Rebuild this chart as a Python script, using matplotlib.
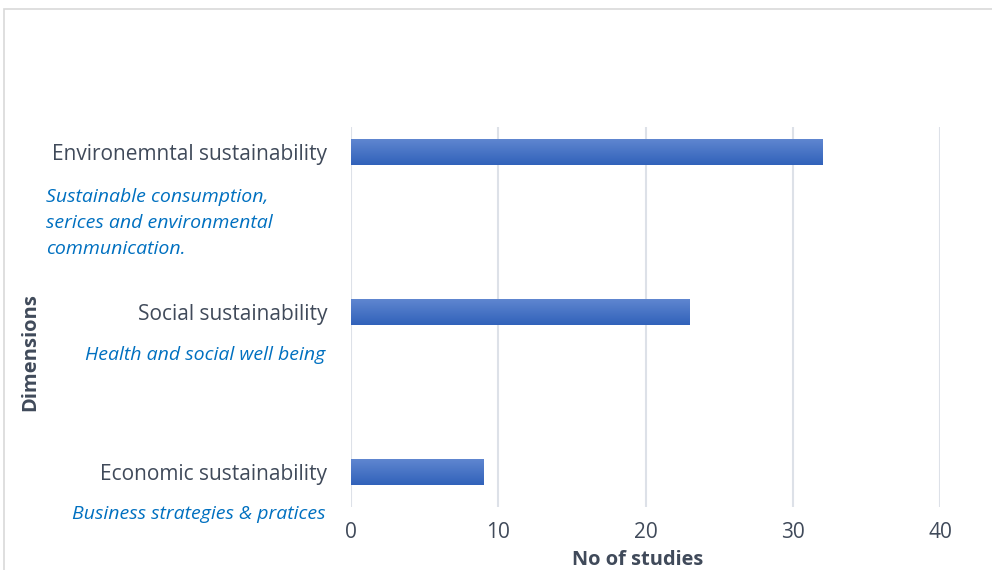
import matplotlib.pyplot as plt
import numpy as np
from matplotlib.patches import Rectangle

# Данные: число исследований по измерениям устойчивости
dimensions = ['Economic sustainability', 'Social sustainability', 'Environemntal sustainability']
studies = [9, 23, 32]
themes = ['Business strategies & pratices',
          'Health and social well being',
          'Sustainable consumption,\nserices and environmental\ncommunication.']
x_ticks = [0, 10, 20, 30, 40]

plt.rcParams['font.family'] = ['Open Sans', 'DejaVu Sans']
text_color = '#404A5A'
theme_color = '#0070C0'

fig = plt.figure(figsize=(9.92, 5.70), dpi=100)
ax = fig.add_axes([351 / 992, 63 / 570, 589 / 992, 380 / 570])

# Рамка вокруг всей диаграммы
fig.patches.append(Rectangle((4 / 992, -0.1), 1.1, 1.1 - 9 / 570,
                             transform=fig.transFigure, fill=False,
                             edgecolor='#D9D9D9', linewidth=1.2))

ypos = np.arange(len(dimensions))
bars = ax.barh(ypos, studies, height=0.1625, color='#4472C4', zorder=3)

# Градиентная заливка столбцов (светлее сверху)
grad = np.linspace(0, 1, 100).reshape(-1, 1)
cmap = plt.matplotlib.colors.LinearSegmentedColormap.from_list('g', ['#3162BA', '#5F86D0'])
for b in bars:
    x0, y0 = b.get_x(), b.get_y()
    im = ax.imshow(grad, cmap=cmap, aspect='auto', origin='lower',
                   extent=[x0, x0 + b.get_width(), y0, y0 + b.get_height()], zorder=4)
    im.set_clip_path(b)

ax.set_xlim(0, 40)
ax.set_ylim(-35 / 160, 2 + 25 / 160)
ax.set_xticks(x_ticks)
ax.set_yticks(ypos)
ax.set_yticklabels(dimensions, fontsize=15, color=text_color)
ax.tick_params(axis='x', labelsize=15, colors=text_color, length=0, pad=11)
ax.tick_params(axis='y', length=0, pad=17)
ax.grid(axis='x', color='#DDE1E8', linewidth=1.5, zorder=0)
for s in ax.spines.values():
    s.set_visible(False)

ax.set_xlabel('No of studies', fontsize=14.4, fontweight='bold', color=text_color)
ax.xaxis.set_label_coords((638 - 351) / 589, -53 / 380)
ax.xaxis.label.set_va('center')
fig.text(30 / 992, 1 - 352 / 570, 'Dimensions', rotation=90, fontsize=14.5,
         fontweight='bold', color=text_color, ha='center', va='center')

# Подписи тематик под названиями измерений
fig.text(46 / 992, 1 - 223 / 570, themes[2], fontsize=14, style='italic',
         color=theme_color, ha='left', va='center', linespacing=1.6)
fig.text(325 / 992, 1 - 355 / 570, themes[1], fontsize=14, style='italic',
         color=theme_color, ha='right', va='center')
fig.text(326 / 992, 1 - 514 / 570, themes[0], fontsize=14, style='italic',
         color=theme_color, ha='right', va='center')

fig.savefig('out.png', dpi=100)
